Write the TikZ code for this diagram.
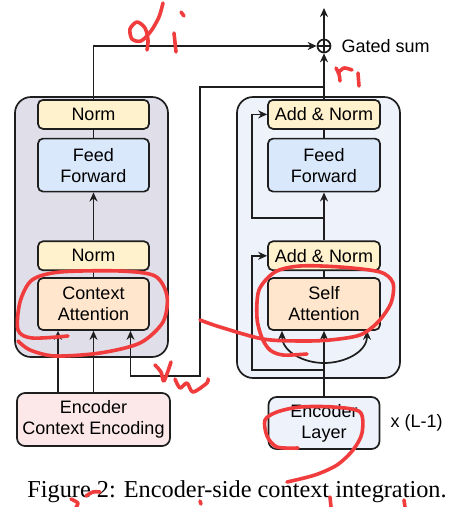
\documentclass[tikz,border=0pt]{standalone}
\usepackage{fontspec}
\setmainfont{Liberation Serif}
\newfontfamily\boxfont{Liberation Sans}
\usetikzlibrary{arrows.meta,positioning}
\definecolor{LineDark}{HTML}{1E1E1E}
\definecolor{NormYellow}{HTML}{FFF2CC}
\definecolor{FFBlue}{HTML}{DAE8FC}
\definecolor{AttnOrange}{HTML}{FFE6CC}
\definecolor{CtxPink}{HTML}{FCE8E8}
\definecolor{LayerBlue}{HTML}{EEF2FA}
\definecolor{LayerGray}{HTML}{E0DEE8}
\definecolor{InkRed}{HTML}{F03C3C}
\tikzset{
  unitbox/.style={rounded corners=5pt, draw=LineDark, line width=1.7pt, align=center, minimum width=111pt, inner sep=0pt, font=\boxfont\fontsize{18}{21}\selectfont},
  normbox/.style={unitbox, fill=NormYellow, minimum height=29pt},
  ffbox/.style={unitbox, fill=FFBlue, minimum height=53pt},
  attnbox/.style={unitbox, fill=AttnOrange, minimum height=52pt},
  layerbox/.style={rounded corners=16pt, draw=LineDark, line width=1.7pt, inner sep=0pt},
  sumnode/.style={circle, draw=LineDark, line width=1.7pt, minimum size=13pt, inner sep=0pt,
    path picture={\draw[line width=1.7pt] (path picture bounding box.north) -- (path picture bounding box.south)
      (path picture bounding box.west) -- (path picture bounding box.east);}},
  textlabel/.style={inner sep=0pt, font=\boxfont\fontsize{18}{21}\selectfont},
  arrow/.style={-{Stealth[length=9pt, width=8pt]}, line width=1.7pt, draw=LineDark},
  link/.style={line width=1.7pt, draw=LineDark},
  scribble/.style={draw=InkRed, line width=3.6pt, line cap=round, line join=round}
}

\begin{document}
\begin{tikzpicture}[x=1pt, y=-1pt]
    \useasboundingbox (0,0) rectangle (454,507);
    \node[layerbox, fill=LayerGray, minimum width=153pt, minimum height=260pt] (ctxlayer) at (91.5,227) {};
    \node[layerbox, fill=LayerBlue, minimum width=163pt, minimum height=281pt] (selflayer) at (318.5,237.5) {};

    \node[attnbox] (ctxattn) at (93.5,304) {Context\\Attention};
    \node[normbox, above=6pt of ctxattn] (ctxnorm) {Norm};
    \node[ffbox, above=48pt of ctxnorm] (ctxff) {Feed\\Forward};
    \node[normbox, above=8pt of ctxff] (ctxout) {Norm};

    \node[attnbox, minimum width=112pt] (selfattn) at (324,304) {Self\\Attention};
    \node[normbox, minimum width=112pt, above=6pt of selfattn] (addnorm1) {Add \& Norm};
    \node[ffbox, minimum width=112pt, above=48pt of addnorm1] (selfff) {Feed\\Forward};
    \node[normbox, minimum width=112pt, above=8pt of selfff] (addnorm2) {Add \& Norm};

    \node[unitbox, fill=CtxPink, minimum width=153pt, minimum height=53pt, rounded corners=8pt] (ctxenc) at (93.5,419.5) {Encoder\\Context Encoding};
    \node[unitbox, fill=LayerBlue, minimum height=52pt, rounded corners=8pt] (enclayer) at (324,423) {Encoder\\Layer};
    \node[textlabel, right=10pt of enclayer] (repeat) {x (L-1)};

    \node[sumnode] (sum) at (324,46) {};
    \node[textlabel, right=10pt of sum] (gated) {Gated sum};
    \coordinate (out) at (324,8);

    \node[inner sep=0pt, anchor=base, font=\fontsize{24.3}{28}\selectfont] (caption) at (237,497) {Figure 2: Encoder-side context integration.};

    \draw[link] (ctxattn) -- (ctxnorm);
    \draw[arrow] (ctxnorm) -- (ctxff);
    \draw[link] (ctxff) -- (ctxout);
    \draw[arrow] (ctxout.north) |- (sum.west);
    \draw[link] (selfattn) -- (addnorm1);
    \draw[arrow] (addnorm1) -- (selfff);
    \draw[link] (selfff) -- (addnorm2);
    \draw[arrow] (addnorm2) -- (sum);
    \draw[arrow] (sum) -- (out);

    \draw[arrow] ([xshift=-35.5pt]ctxenc.north) -- ([xshift=-35.5pt]ctxattn.south);
    \draw[arrow] (ctxenc) -- (ctxattn);
    \coordinate (branch) at (324,87);
    \coordinate (loopbot) at (200,376);
    \draw[arrow] (branch) -| (loopbot) -| ([xshift=37pt]ctxattn.south);

    \draw[arrow] (enclayer) -- (selfattn);
    \coordinate (split) at (324,363);
    \draw[arrow] (split) to[out=180, in=-90] ([xshift=-42pt]selfattn.south);
    \draw[arrow] (split) to[out=0, in=-90] ([xshift=43pt]selfattn.south);
    \coordinate (res1) at (324,370);
    \coordinate[left=15pt of addnorm1.west] (res1turn);
    \draw[arrow] (res1) -| (res1turn) -- (addnorm1.west);
    \coordinate (res2) at (324,218);
    \coordinate[left=15pt of addnorm2.west] (res2turn);
    \draw[arrow] (res2) -| (res2turn) -- (addnorm2.west);

    % hand-drawn marks
    \draw[scribble] plot[smooth] coordinates {(163,3) (159,17) (151,31) (141,41) (132,39) (130,29) (137,22) (145,28) (148,40) (147,50)};
    \draw[scribble] (174,33) -- (176,52);
    \draw[scribble] (181,12) -- (184,16);
    \draw[scribble] plot[smooth] coordinates {(336,68) (339,74) (340,81)};
    \draw[scribble] plot[smooth] coordinates {(338,73) (344,68) (352,70)};
    \draw[scribble] (358,73) -- (359,86);
    \draw[scribble] plot[smooth] coordinates {(68,336) (32,338) (18,330) (20,302) (32,280) (60,272) (120,271) (155,276) (167,296) (163,322) (140,343) (100,353) (55,356) (30,350) (18,341)};
    \draw[scribble] plot[smooth] coordinates {(200,320) (220,327) (263,339) (300,341) (330,340) (360,335) (378,322) (391,303) (393,283) (380,272) (340,267) (300,266) (275,272) (259,290) (257,318) (262,338) (270,350) (283,355) (307,354)};
    \draw[scribble] plot[smooth] coordinates {(155,365) (161,372) (164,381) (171,362)};
    \draw[scribble] plot[smooth] coordinates {(175,379) (180,388) (187,383) (193,392) (207,383) (208,379)};
    \draw[scribble] plot[smooth] coordinates {(298,448) (277,447) (267,436) (265,420) (277,412) (300,407) (333,407) (360,412) (362,433) (353,450) (337,465) (315,475) (287,482)};
    \draw[scribble] plot[smooth] coordinates {(86,496) (93,492) (100,492)};
    \draw[scribble] plot[smooth] coordinates {(71,499) (78,503) (76,507)};
    \draw[scribble] (330,497) -- (331,507);
    \draw[scribble] (404,500) -- (405,507);
    \draw[scribble] (200,501) -- (201,504);
\end{tikzpicture}
\end{document}
